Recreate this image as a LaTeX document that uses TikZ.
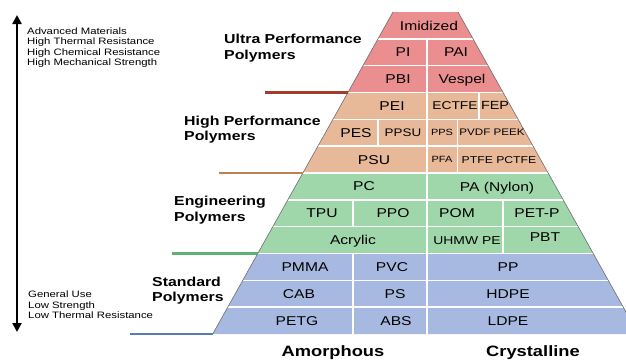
\documentclass[tikz,border=0pt]{standalone}
\usepackage{fontspec}
\setmainfont{Liberation Sans}[FakeStretch=1.22]
\usetikzlibrary{calc,arrows.meta}

\definecolor{ultrafill}{HTML}{EA8E90}
\definecolor{highfill}{HTML}{E8B999}
\definecolor{engfill}{HTML}{9FD7AA}
\definecolor{stdfill}{HTML}{A7B9E1}
\definecolor{ultraline}{HTML}{A33D2C}
\definecolor{highline}{HTML}{C0804E}
\definecolor{engline}{HTML}{5DB172}
\definecolor{stdline}{HTML}{5A7BB2}
\definecolor{edgegray}{HTML}{6E6E6E}

\newcommand{\fsz}[1]{\fontsize{#1}{#1}\selectfont}

\begin{document}
\begin{tikzpicture}[x=1pt,y=-1pt,
  cell/.style={inner sep=0pt, text depth=0pt, font=\fsz{12.8}},
  group/.style={inner sep=0pt, anchor=west, align=left, font=\bfseries\fontsize{13}{15.5}\selectfont},
  note/.style={inner sep=0pt, anchor=west, align=left, font=\fontsize{9.3}{10.5}\selectfont},
  axislabel/.style={inner sep=0pt, font=\bfseries\fsz{15}},
  rowsep/.style={white, line width=1.4pt},
  colsep/.style={white, line width=1.5pt},
  mainsep/.style={white, line width=2pt},
  tierline/.style={line width=2.6pt},
  edge/.style={edgegray, line width=0.6pt},
  bigarrow/.style={line width=2.6pt, {Triangle[width=9pt,length=9pt]}-{Triangle[width=9pt,length=9pt]}}
]
\useasboundingbox (0,0) rectangle (626,362);
\clip (0,0) rectangle (626,362);

% pyramid corners
\coordinate (TL) at (393,12);
\coordinate (TR) at (458,12);
\coordinate (BL) at (212.7,334);
\coordinate (BR) at (638.3,334);

% tier fills
\fill[ultrafill] (TL) -- ($(TL)!0.25!(BL)$) -- ($(TR)!0.25!(BR)$) -- (TR) -- cycle;
\fill[highfill] ($(TL)!0.25!(BL)$) -- ($(TL)!0.5!(BL)$) -- ($(TR)!0.5!(BR)$) -- ($(TR)!0.25!(BR)$) -- cycle;
\fill[engfill] ($(TL)!0.5!(BL)$) -- ($(TL)!0.75!(BL)$) -- ($(TR)!0.75!(BR)$) -- ($(TR)!0.5!(BR)$) -- cycle;
\fill[stdfill] ($(TL)!0.75!(BL)$) -- (BL) -- (BR) -- ($(TR)!0.75!(BR)$) -- cycle;

% row separators
\foreach \k in {1,...,11}
  \draw[rowsep] ($(TL)!\k/12!(BL)$) -- ($(TR)!\k/12!(BR)$);

% column separators
\draw[mainsep] (427,38.83) -- (427,334);
\draw[colsep] (479,92.5) -- (479,119.33);
\draw[colsep] (378,119.33) -- (378,146.17);
\draw[colsep] (457.5,119.33) -- (457.5,173);
\draw[colsep] (353,199.83) -- (353,226.67);
\draw[colsep] (503,199.83) -- (503,253.5);
\draw[colsep] (353,253.5) -- (353,334);

% slanted outline
\draw[edge] (TL) -- (BL);
\draw[edge] (TR) -- (BR);

% tier rules on the left
\coordinate (u0) at (265,92.5);
\coordinate (h0) at (219,173);
\coordinate (e0) at (172,253.5);
\coordinate (s0) at (130,334);
\draw[tierline, ultraline] (u0) -- ($(TL)!0.25!(BL)$);
\draw[tierline, highline] (h0) -- ($(TL)!0.5!(BL)$);
\draw[tierline, engline] (e0) -- ($(TL)!0.75!(BL)$);
\draw[tierline, stdline] (s0) -- (BL);

% cell labels: ultra performance
\node[cell] (imid) at (429,25.4) {Imidized};
\node[cell] (pi) at (403,52.2) {PI};
\node[cell] (pai) at (456,52.2) {PAI};
\node[cell] (pbi) at (398,79.1) {PBI};
\node[cell] (vespel) at (462,79.1) {Vespel};
% high performance
\node[cell] (pei) at (392,105.9) {PEI};
\node[cell, font=\fsz{11.3}] (ectfe) at (455,105.9) {ECTFE};
\node[cell, font=\fsz{11.8}] (fep) at (495,105.9) {FEP};
\node[cell] (pes) at (356,132.7) {PES};
\node[cell, font=\fsz{11}] (ppsu) at (403,132.7) {PPSU};
\node[cell, font=\fsz{9}] (pps) at (442,132.7) {PPS};
\node[cell, font=\fsz{9.5}] (pvdf) at (492,132.7) {PVDF PEEK};
\node[cell] (psu) at (374,159.6) {PSU};
\node[cell, font=\fsz{9}] (pfa) at (442,159.6) {PFA};
\node[cell, font=\fsz{10}] (ptfe) at (499,159.6) {PTFE PCTFE};
% engineering
\node[cell] (pc) at (364,186.4) {PC};
\node[cell] (pa) at (497,186.4) {PA (Nylon)};
\node[cell] (tpu) at (322,213.3) {TPU};
\node[cell] (ppo) at (393,213.3) {PPO};
\node[cell] (pom) at (457,213.3) {POM};
\node[cell] (petp) at (537,213.3) {PET-P};
\node[cell] (acrylic) at (353,240.1) {Acrylic};
\node[cell, font=\fsz{11.4}] (uhmw) at (467,240.1) {UHMW PE};
\node[cell] (pbt) at (545,237.5) {PBT};
% standard
\node[cell] (pmma) at (305,266.9) {PMMA};
\node[cell] (pvc) at (392,266.9) {PVC};
\node[cell] (pp) at (508,266.9) {PP};
\node[cell] (cab) at (299,293.8) {CAB};
\node[cell] (ps) at (395,293.8) {PS};
\node[cell] (hdpe) at (508,293.8) {HDPE};
\node[cell] (petg) at (297,320.6) {PETG};
\node[cell] (abs) at (396,320.6) {ABS};
\node[cell] (ldpe) at (508,320.6) {LDPE};

% tier titles
\node[group] (tultra) at (224,48) {Ultra Performance\\Polymers};
\node[group] (thigh) at (184,129.5) {High Performance\\Polymers};
\node[group] (teng) at (174,210) {Engineering\\Polymers};
\node[group] (tstd) at (152,290.5) {Standard\\Polymers};

% property scale
\coordinate (atop) at (17,15);
\coordinate (abot) at (17,332);
\draw[bigarrow] (atop) -- (abot);
\node[note] (hinote) at (27,47.5) {Advanced Materials\\High Thermal Resistance\\High Chemical Resistance\\High Mechanical Strength};
\node[note] (lonote) at (28,305) {General Use\\Low Strength\\Low Thermal Resistance};

% column titles
\node[axislabel] (amorph) at (333,353) {Amorphous};
\node[axislabel] (cryst) at (533,353) {Crystalline};
\end{tikzpicture}
\end{document}
